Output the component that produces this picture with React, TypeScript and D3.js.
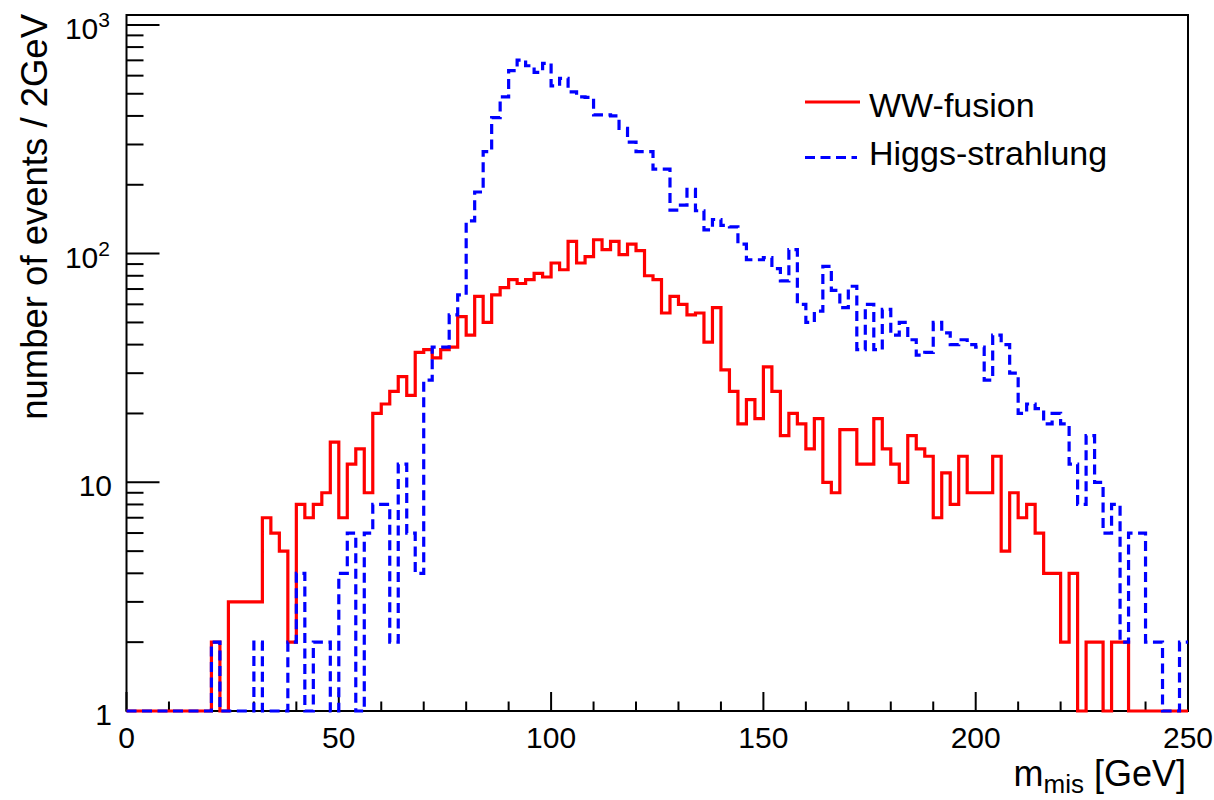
import React from "react";
import * as d3 from "d3";

// bin width 2 GeV, 125 bins from 0 to 250 GeV
const binWidth = 2;
const wwFusion = [
  0, 0, 0, 0, 0, 0, 0, 0, 0, 0,
  2, 0, 3, 3, 3, 3, 7, 6, 5, 2,
  8, 7, 8, 9, 15, 7, 12, 14, 9, 20,
  22, 25, 29, 24, 37, 38, 35, 38, 39, 53,
  44, 65, 50, 66, 71, 77, 74, 77, 82, 79,
  91, 85, 113, 91, 97, 115, 104, 113, 99, 110,
  103, 80, 77, 55, 65, 60, 54, 55, 41, 58,
  31, 25, 18, 23, 19, 32, 25, 16, 20, 18,
  14, 19, 10, 9, 17, 17, 12, 12, 19, 14,
  12, 10, 16, 14, 13, 7, 11, 8, 13, 9,
  9, 9, 13, 5, 9, 7, 8, 6, 4, 4,
  2, 4, 0, 2, 2, 0, 2, 2, 0, 0,
  0, 0, 0, 0, 0,
];
const higgsStrahlung = [
  0, 0, 0, 0, 0, 0, 0, 0, 0, 0,
  2, 0, 0, 0, 0, 2, 0, 0, 0, 2,
  4, 0, 2, 2, 0, 4, 6, 0, 6, 8,
  8, 2, 12, 6, 4, 28, 39, 39, 54, 66,
  139, 186, 279, 393, 485, 631, 702, 663, 620, 679,
  541, 584, 510, 485, 482, 404, 404, 400, 353, 307,
  279, 279, 234, 234, 155, 163, 191, 154, 127, 141,
  133, 131, 110, 94, 94, 96, 86, 76, 104, 60,
  50, 56, 88, 69, 58, 72, 38, 60, 38, 57,
  44, 50, 42, 36, 37, 50, 45, 40, 42, 40,
  39, 28, 44, 40, 30, 20, 22, 21, 18, 20,
  18, 12, 8, 16, 10, 6, 8, 2, 6, 6,
  2, 2, 0, 0, 2,
];
const xMajorTicks = [0, 50, 100, 150, 200, 250];
const xMinorTicks = [10, 20, 30, 40, 60, 70, 80, 90, 110, 120, 130, 140, 160, 170, 180, 190, 210, 220, 230, 240];
const yMajorTicks = [1, 10, 100, 1000];
const yTickBase = ["1", "10", "10", "10"];
const yTickExp = ["", "", "2", "3"];
const seriesNames = ["WW-fusion", "Higgs-strahlung"];

const FONT = "'Liberation Sans', Arial, Helvetica, sans-serif";

export default function App() {
  const left = 126.5, right = 1188, top = 15, bottom = 711;
  const x = d3.scaleLinear().domain([0, 250]).range([left, right]);
  const y = d3.scaleLog().domain([1, 1105]).range([bottom, top]);

  const yMinor: number[] = [];
  for (let k = 0; k < 4; k++) {
    for (let m = 2; m <= 9; m++) {
      const v = m * Math.pow(10, k);
      if (v <= 1105) yMinor.push(v);
    }
  }

  const stepPath = (vals: number[]) => {
    const pts: [number, number][] = [];
    vals.forEach((v, i) => {
      const yy = y(Math.max(v, 1));
      pts.push([x(i * binWidth), yy]);
      pts.push([x((i + 1) * binWidth), yy]);
    });
    return d3.line()(pts) || "";
  };

  return (
    <svg
      width={1214}
      height={800}
      style={{ position: "absolute", left: 0, top: 0, background: "#fff" }}
      fontFamily={FONT}
    >
      <rect x={0} y={0} width={1214} height={800} fill="#fff" />
      {/* frame */}
      <rect x={left} y={top} width={right - left} height={bottom - top} fill="none" stroke="#000" strokeWidth={2} />
      {/* y ticks */}
      {yMajorTicks.map((v) => (
        <line key={"ym" + v} x1={left} x2={left + 33} y1={y(v)} y2={y(v)} stroke="#000" strokeWidth={2} />
      ))}
      {yMinor.map((v) => (
        <line key={"yn" + v} x1={left} x2={left + 17} y1={y(v)} y2={y(v)} stroke="#000" strokeWidth={2} />
      ))}
      {/* x ticks */}
      {xMajorTicks.map((v) => (
        <line key={"xm" + v} x1={x(v)} x2={x(v)} y1={bottom} y2={bottom - 19} stroke="#000" strokeWidth={2} />
      ))}
      {xMinorTicks.map((v) => (
        <line key={"xn" + v} x1={x(v)} x2={x(v)} y1={bottom} y2={bottom - 9.5} stroke="#000" strokeWidth={2} />
      ))}
      {/* y tick labels */}
      {yMajorTicks.map((v, i) => (
        <text key={"yl" + v} x={yTickExp[i] ? 110 : 112} y={y(v) + 14} fontSize={30} textAnchor="end" fill="#000">
          {yTickBase[i]}
          {yTickExp[i] ? (
            <tspan fontSize={21} dy={-12}>
              {yTickExp[i]}
            </tspan>
          ) : null}
        </text>
      ))}
      {/* x tick labels */}
      {xMajorTicks.map((v) => (
        <text key={"xl" + v} x={x(v)} y={748} fontSize={30} textAnchor="middle" fill="#000">
          {v}
        </text>
      ))}
      {/* axis titles */}
      <text x={1186} y={786} fontSize={36} textAnchor="end" fill="#000">
        m
        <tspan fontSize={26} dy={7}>mis</tspan>
        <tspan dy={-7}> [GeV]</tspan>
      </text>
      <text
        transform={`translate(47,14) rotate(-90)`}
        fontSize={36.5}
        textAnchor="end"
        fill="#000"
      >
        number of events / 2GeV
      </text>
      {/* histograms */}
      <path d={stepPath(wwFusion)} fill="none" stroke="#ff0000" strokeWidth={3.2} />
      <path d={stepPath(higgsStrahlung)} fill="none" stroke="#0000ff" strokeWidth={3.2} strokeDasharray="10 5.5" />
      {/* legend */}
      <line x1={805} x2={860} y1={102} y2={102} stroke="#ff0000" strokeWidth={3.2} />
      <text x={869} y={116.5} fontSize={34} fill="#000">{seriesNames[0]}</text>
      <line x1={805} x2={857} y1={157.5} y2={157.5} stroke="#0000ff" strokeWidth={3.2} strokeDasharray="10 5.5" />
      <text x={869} y={165} fontSize={34} fill="#000">{seriesNames[1]}</text>
    </svg>
  );
}
